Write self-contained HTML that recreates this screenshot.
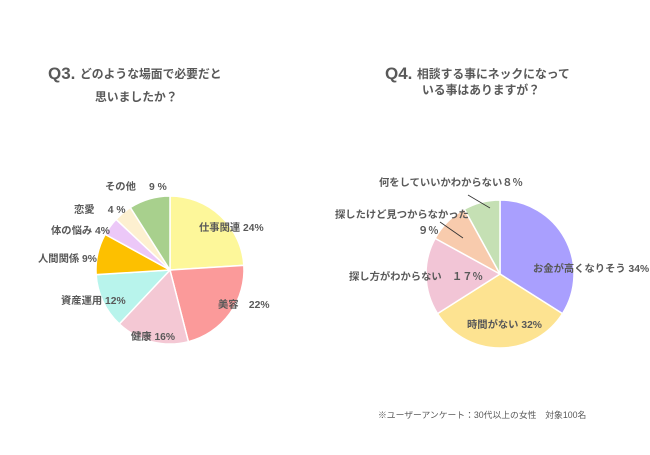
<!DOCTYPE html>
<html><head><meta charset="utf-8"><style>
body{margin:0;width:650px;height:450px;background:#fff;overflow:hidden}
svg text{font-family:"Liberation Sans","Noto Sans CJK JP",sans-serif;fill:#595959;font-weight:bold}
</style></head><body>
<svg width="650" height="450">
<text x="48" y="79" font-size="17">Q3.</text>
<text x="80" y="78" font-size="11.8">どのような場面で必要だと</text>
<text x="95" y="101" font-size="11.8">思いましたか？</text>
<text x="385" y="79" font-size="17">Q4.</text>
<text x="417" y="78" font-size="11.8">相談する事にネックになって</text>
<text x="422" y="94" font-size="11.8">いる事はありますが？</text>
<g id="p1"></g>
<g id="p2"></g>
<g font-size="10.3">
<text x="105" y="190">その他　 9 %</text>
<text x="74" y="213">恋愛　 4 %</text>
<text x="51" y="234">体の悩み 4%</text>
<text x="38" y="262">人間関係 9%</text>
<text x="61" y="304">資産運用 12%</text>
<text x="131" y="340">健康 16%</text>
<text x="199" y="231">仕事関連 24%</text>
<text x="218" y="308">美容　22%</text>
</g>
<g font-size="10.3">
<text x="379" y="186">何をしていいかわからない８％</text>
<text x="335" y="218">探したけど見つからなかった</text>
<text x="418" y="234">９％</text>
<text x="349" y="280">探し方がわからない　１７％</text>
<text x="533" y="272">お金が高くなりそう 34%</text>
<text x="467" y="328">時間がない 32%</text>
<line x1="468" y1="195" x2="490" y2="208" stroke="#333" stroke-width="0.8"/>
<line x1="440" y1="222" x2="463" y2="238" stroke="#333" stroke-width="0.8"/>
</g>
<text x="378" y="418" font-size="8.8" style="font-weight:normal">※ユーザーアンケート：30代以上の女性　対象100名</text>
</svg>
<script>
const q3Categories=["仕事関連","美容","健康","資産運用","人間関係","体の悩み","恋愛","その他"];
const q3Values=[24,22,16,12,9,4,4,9];
const q3Colors=["#fdf79a","#fb9a9a","#f4c8d4","#b8f4ec","#fdc000","#ecc8f8","#fdf0d0","#a8d08d"];
const q4Categories=["お金が高くなりそう","時間がない","探し方がわからない","探したけど見つからなかった","何をしていいかわからない"];
const q4Values=[34,32,17,9,8];
const q4Colors=["#a99ffe","#fde391","#f2c5d6","#f8cbad","#c5e0b4"];
function pie(g,cats,vals,cols,cx,cy,r){
  const tot=vals.reduce((a,b)=>a+b,0);let a=-Math.PI/2;
  vals.forEach((v,i)=>{
    const b=a+v/tot*2*Math.PI;
    const x1=cx+r*Math.cos(a),y1=cy+r*Math.sin(a),x2=cx+r*Math.cos(b),y2=cy+r*Math.sin(b);
    const p=document.createElementNS("http://www.w3.org/2000/svg","path");
    p.setAttribute("d",`M${cx},${cy}L${x1},${y1}A${r},${r} 0 ${b-a>Math.PI?1:0} 1 ${x2},${y2}Z`);
    p.setAttribute("fill",cols[i]);p.setAttribute("stroke","#fff");p.setAttribute("stroke-width","1.5");
    
    
    g.appendChild(p);a=b;
  });
}
pie(document.getElementById("p1"),q3Categories,q3Values,q3Colors,170,270,74);
pie(document.getElementById("p2"),q4Categories,q4Values,q4Colors,500,274,74);
</script>
</body></html>
